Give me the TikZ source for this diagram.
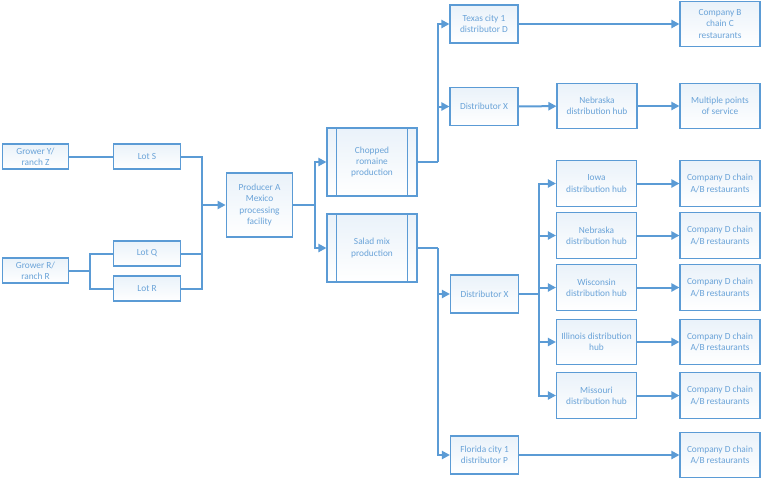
\documentclass[tikz,border=0pt]{standalone}
\usepackage{fontspec}
\setmainfont{Carlito}
\usetikzlibrary{arrows.meta,positioning}
\definecolor{flowblue}{HTML}{5B9BD5}
\definecolor{txtblue}{HTML}{6AA3D8}
\tikzset{
  box/.style={rectangle, draw=flowblue, line width=0.8pt, top color=flowblue!13, bottom color=white,
              text=txtblue, align=center, font=\fontsize{7}{8.4}\selectfont, inner sep=1pt},
  lotbox/.style={box, minimum width=50pt, minimum height=18.75pt},
  plantbox/.style={box, minimum width=50pt, minimum height=48pt},
  procbox/.style={box, minimum width=67.5pt, minimum height=51pt},
  distbox/.style={box, minimum width=51pt, minimum height=28.5pt},
  hubbox/.style={box, minimum width=60pt, minimum height=34pt},
  link/.style={draw=flowblue, line width=1.5pt},
  arr/.style={link, -{Triangle[length=6pt,width=6pt]}},
}
\begin{document}
\begin{tikzpicture}[x=0.75pt, y=-0.75pt]
  \useasboundingbox (0,0) rectangle (762,479);
  % growers and lots
  \node[lotbox] (gy) at (35.5,156.5) {Grower Y/\\ranch Z};
  \node[lotbox] (gr) at (35.5,270.5) {Grower R/\\ranch R};
  \node[lotbox] (ls) at (147,156.5) {Lot S};
  \node[lotbox] (lq) at (147,253.5) {Lot Q};
  \node[lotbox] (lr) at (147,288.5) {Lot R};
  \node[plantbox] (prod) at (259.5,205) {Producer A\\Mexico\\processing\\facility};
  % production lines
  \node[procbox] (chop) at (372,162) {Chopped\\romaine\\production};
  \node[procbox] (salad) at (372,248) {Salad mix\\production};
  \foreach \p in {chop,salad} {
    \draw[flowblue, line width=0.8pt] ([xshift=7.5pt]\p.north west) -- ([xshift=7.5pt]\p.south west);
    \draw[flowblue, line width=0.8pt] ([xshift=-7.5pt]\p.north east) -- ([xshift=-7.5pt]\p.south east);
  }
  % distributors
  \node[distbox] (tex) at (484,24) {Texas city 1\\distributor D};
  \node[distbox] (dxa) at (484,106.5) {Distributor X};
  \node[distbox] (dxb) at (484.5,294) {Distributor X};
  \node[distbox] (flo) at (484.5,455) {Florida city 1\\distributor P};
  % hubs
  \node[hubbox] (neba) at (597,106) {Nebraska\\distribution hub};
  \node[hubbox] (iowa) at (596.5,183.5) {Iowa\\distribution hub};
  \node[hubbox] (nebb) at (596.5,235.5) {Nebraska\\distribution hub};
  \node[hubbox] (wis) at (596.5,287.5) {Wisconsin\\distribution hub};
  \node[hubbox] (ill) at (596.5,342) {Illinois distribution\\hub};
  \node[hubbox] (mis) at (596.5,395.5) {Missouri\\distribution hub};
  % restaurants
  \node[hubbox] (cb) at (720,24) {Company B\\chain C\\restaurants};
  \node[hubbox] (mult) at (720,106) {Multiple points\\of service};
  \node[hubbox] (ciowa) at (720,183.5) {Company D chain\\A/B restaurants};
  \node[hubbox] (cnebb) at (720,235.5) {Company D chain\\A/B restaurants};
  \node[hubbox] (cwis) at (720,287.5) {Company D chain\\A/B restaurants};
  \node[hubbox] (cill) at (720,342) {Company D chain\\A/B restaurants};
  \node[hubbox] (cmis) at (720,395.5) {Company D chain\\A/B restaurants};
  \node[hubbox] (cflo) at (720,455) {Company D chain\\A/B restaurants};
  % junctions
  \coordinate (jg) at (90,270.5);
  \coordinate (jl) at (202,205);
  \coordinate (jp) at (315,205);
  \coordinate (jc) at (438,162);
  \coordinate (js) at (438,248);
  \coordinate (jx) at (539,294);
  % connectors
  \draw[link] (gy) -- (ls);
  \draw[link] (gr) -- (jg);
  \draw[link] (lq.west) -| (jg) |- (lr.west);
  \draw[link] (ls.east) -| (jl);
  \draw[link] (lq.east) -| (jl);
  \draw[link] (lr.east) -| (jl);
  \draw[arr] (jl) -- (prod);
  \draw[link] (prod) -- (jp);
  \draw[arr] (jp) |- (chop);
  \draw[arr] (jp) |- (salad);
  \draw[link] (chop) -- (jc);
  \draw[arr] (jc) |- (tex);
  \draw[arr] (jc) |- (dxa);
  \draw[link] (salad) -- (js);
  \draw[arr] (js) |- (dxb);
  \draw[arr] (js) |- (flo);
  \draw[arr] (tex) -- (cb);
  \draw[arr] (dxa) -- (neba);
  \draw[arr] (neba) -- (mult);
  \draw[link] (dxb) -- (jx);
  \foreach \h in {iowa,nebb,wis,ill,mis} \draw[arr] (jx) |- (\h);
  \draw[arr] (iowa) -- (ciowa);
  \draw[arr] (nebb) -- (cnebb);
  \draw[arr] (wis) -- (cwis);
  \draw[arr] (ill) -- (cill);
  \draw[arr] (mis) -- (cmis);
  \draw[arr] (flo) -- (cflo);
\end{tikzpicture}
\end{document}
